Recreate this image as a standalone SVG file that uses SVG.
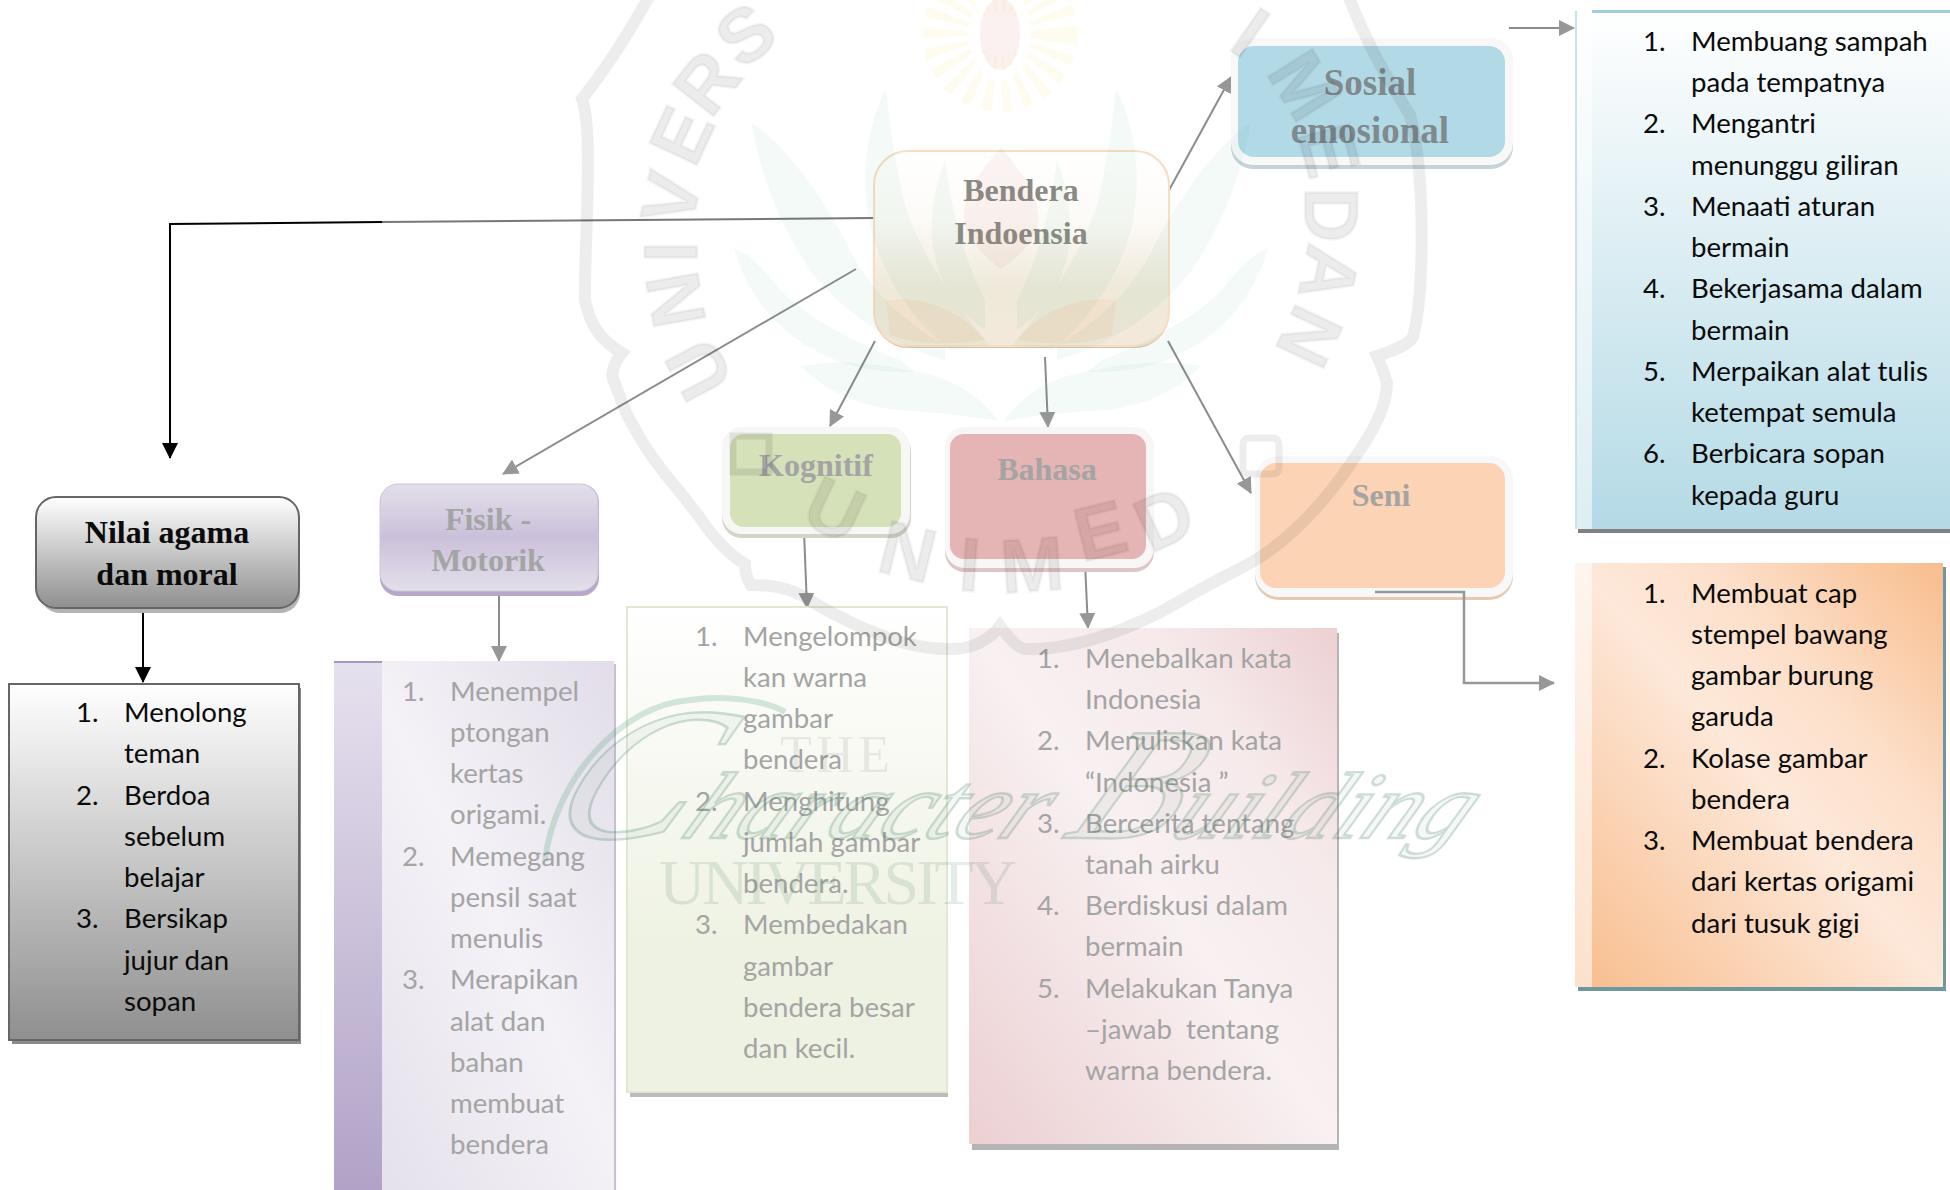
<svg xmlns="http://www.w3.org/2000/svg" xmlns:xlink="http://www.w3.org/1999/xlink" width="1950" height="1190" viewBox="0 0 1950 1190">
<style>
.t{font-family:"Liberation Serif","Times New Roman",serif;font-weight:bold;font-size:32px;text-anchor:middle}
.l{font-family:Lato,"Open Sans",sans-serif;font-size:27.6px;white-space:pre;transform:translate(-2px,0)}
.g{fill:#a4a4a4}.k{fill:#0b0b0b}
.c{fill:none;stroke:#8c8c8c;stroke-width:2}
.w{font-family:"Liberation Sans",Arial,sans-serif;font-weight:bold;font-size:76px;text-anchor:middle;fill:#000;fill-opacity:.075;stroke:#000;stroke-opacity:.04;stroke-width:3}
</style>
<defs>
<marker id="ag" markerUnits="userSpaceOnUse" markerWidth="16" markerHeight="16" refX="15" refY="8" orient="auto"><path d="M0 0L16 8L0 16Z" fill="#979797"/></marker>
<marker id="ab" markerUnits="userSpaceOnUse" markerWidth="16" markerHeight="16" refX="15" refY="8" orient="auto"><path d="M0 0L16 8L0 16Z" fill="#000"/></marker>
<linearGradient id="gn" x1="0" y1="0" x2="0" y2="1"><stop offset="0" stop-color="#fff"/><stop offset="1" stop-color="#8f8f8f"/></linearGradient>
<linearGradient id="gf" x1="0" y1="0" x2="0" y2="1"><stop offset="0" stop-color="#e3dfea"/><stop offset=".5" stop-color="#cbc0da"/><stop offset="1" stop-color="#e3dfea"/></linearGradient>
<linearGradient id="gb" x1="0" y1="0" x2="0" y2="1"><stop offset="0" stop-color="#fff"/><stop offset=".35" stop-color="#fdfbf8"/><stop offset=".7" stop-color="#efe9da"/><stop offset="1" stop-color="#f3e9da"/></linearGradient>
<linearGradient id="gs" x1="0" y1="0" x2="0" y2="1"><stop offset="0" stop-color="#fff"/><stop offset="1" stop-color="#b4dae6"/></linearGradient>
<linearGradient id="gg" x1="0" y1="0" x2="0" y2="1"><stop offset="0" stop-color="#fff"/><stop offset=".7" stop-color="#eef2e2"/><stop offset="1" stop-color="#eef2e2"/></linearGradient>
<linearGradient id="gp" x1="0" y1="1" x2="1" y2="0"><stop offset="0" stop-color="#ecd0d2"/><stop offset=".5" stop-color="#f8f0f1"/><stop offset=".75" stop-color="#f6eaeb"/><stop offset="1" stop-color="#edd0d2"/></linearGradient>
<linearGradient id="gv" x1="0" y1="1" x2="1" y2="0"><stop offset="0" stop-color="#e2dde9"/><stop offset=".55" stop-color="#f4f2f7"/><stop offset="1" stop-color="#e2dde9"/></linearGradient>
<linearGradient id="gv2" x1="0" y1="0" x2="0" y2="1"><stop offset="0" stop-color="#e6e1ee"/><stop offset="1" stop-color="#b0a1c6"/></linearGradient>
<linearGradient id="go" x1="0" y1="1" x2="1" y2="0"><stop offset="0" stop-color="#f8bd8d"/><stop offset=".5" stop-color="#fde8d9"/><stop offset=".68" stop-color="#fde0cb"/><stop offset="1" stop-color="#f8bd8d"/></linearGradient>
<g id="leaves">
<path d="M990 345C950 300 920 250 905 205C895 165 890 125 886 88C870 120 860 165 868 215C875 260 905 315 950 350Z"/>
<path d="M945 345C900 320 865 285 845 240C820 195 790 150 751 122C762 180 780 225 810 270C840 310 890 345 945 360Z"/>
<path d="M900 360C860 345 810 320 780 290C765 270 750 255 734 248C745 290 775 330 815 350C850 370 880 372 915 372Z"/>
<path d="M998 421C980 395 950 375 905 370C870 362 835 360 801 366C830 395 860 405 895 410C930 412 965 415 998 421Z"/>
<path d="M985 300C960 250 950 200 945 160C930 200 925 245 945 285C955 305 970 320 985 330Z"/>
</g>
</defs>

<g id="connectors">
<path class="c" style="stroke:#777" d="M874 218L382 222"/>
<path d="M382 222L170 224V458" fill="none" stroke="#000" stroke-width="2" marker-end="url(#ab)"/>
<path d="M143 608V682" fill="none" stroke="#000" stroke-width="2" marker-end="url(#ab)"/>
<path class="c" d="M499 595V661" marker-end="url(#ag)"/>
<path class="c" d="M856 269L503 474" marker-end="url(#ag)"/>
<path class="c" d="M875 341L830 426" marker-end="url(#ag)"/>
<path class="c" d="M1045 357L1048 427" marker-end="url(#ag)"/>
<path class="c" d="M1168 192L1231 77" marker-end="url(#ag)"/>
<path class="c" d="M1168 341L1251 493" marker-end="url(#ag)"/>
<path class="c" d="M804 531L807 608" marker-end="url(#ag)"/>
<path class="c" d="M1085 563L1088 628" marker-end="url(#ag)"/>
<path class="c" d="M1509 28H1574" marker-end="url(#ag)"/>
</g>

<g id="nilai-agama">
<rect x="40" y="502" width="260" height="111" rx="20" fill="#b4b4b4"/>
<rect x="36" y="497" width="263" height="111" rx="20" fill="url(#gn)" stroke="#666" stroke-width="2"/>
<text class="t k" x="167" y="543">Nilai agama</text><text class="t k" x="167" y="585">dan moral</text>
</g>
<g id="nilai-list">
<rect x="12" y="688" width="289" height="356" fill="#8a8a8a"/>
<rect x="9" y="684" width="290" height="356" fill="url(#gn)" stroke="#666" stroke-width="2"/>
<text class="l k"><tspan x="78" y="722">1.</tspan><tspan x="126" y="722">Menolong</tspan><tspan x="126" y="763">teman</tspan><tspan x="78" y="805">2.</tspan><tspan x="126" y="805">Berdoa</tspan><tspan x="126" y="846">sebelum</tspan><tspan x="126" y="887">belajar</tspan><tspan x="78" y="928">3.</tspan><tspan x="126" y="928">Bersikap</tspan><tspan x="126" y="970">jujur dan</tspan><tspan x="126" y="1011">sopan</tspan></text>
</g>

<g id="fisik-motorik">
<rect x="380" y="484" width="219" height="112" rx="18" fill="#b5a8c9"/>
<rect x="380" y="484" width="218" height="107" rx="18" fill="url(#gf)" stroke="#cfc6dd"/>
<text class="t g" x="488" y="530">Fisik -</text><text class="t g" x="488" y="571">Motorik</text>
</g>
<g id="fisik-list">
<rect x="337" y="664" width="279" height="540" fill="#c6c0d0"/>
<rect x="334" y="661" width="280" height="540" fill="url(#gv)"/>
<rect x="334" y="661" width="48" height="540" fill="url(#gv2)"/>
<rect x="334" y="661" width="48" height="2" fill="#a898c0"/>
<text class="l g"><tspan x="404" y="701">1.</tspan><tspan x="452" y="701">Menempel</tspan><tspan x="452" y="742">ptongan</tspan><tspan x="452" y="783">kertas</tspan><tspan x="452" y="824">origami.</tspan><tspan x="404" y="866">2.</tspan><tspan x="452" y="866">Memegang</tspan><tspan x="452" y="907">pensil saat</tspan><tspan x="452" y="948">menulis</tspan><tspan x="404" y="989">3.</tspan><tspan x="452" y="989">Merapikan</tspan><tspan x="452" y="1031">alat dan</tspan><tspan x="452" y="1072">bahan</tspan><tspan x="452" y="1113">membuat</tspan><tspan x="452" y="1154">bendera</tspan></text>
</g>

<g id="kognitif">
<rect x="722" y="431" width="189" height="107" rx="20" fill="#d4d4c8"/>
<rect x="722" y="427" width="188" height="107" rx="20" fill="#f7f7f6"/>
<rect x="730" y="434" width="171" height="93" rx="14" fill="#d5e1b9"/>
<text class="t g" x="816" y="476">Kognitif</text>
</g>
<g id="kognitif-list">
<rect x="630" y="611" width="318" height="486" fill="#bbb"/>
<rect x="627" y="607" width="320" height="485" fill="url(#gg)" stroke="#e1e8d2" stroke-width="2"/>
<text class="l g"><tspan x="697" y="646">1.</tspan><tspan x="745" y="646">Mengelompok</tspan><tspan x="745" y="687">kan warna</tspan><tspan x="745" y="728">gambar</tspan><tspan x="745" y="769">bendera</tspan><tspan x="697" y="811">2.</tspan><tspan x="745" y="811">Menghitung</tspan><tspan x="745" y="852">jumlah gambar</tspan><tspan x="745" y="893">bendera.</tspan><tspan x="697" y="934">3.</tspan><tspan x="745" y="934">Membedakan</tspan><tspan x="745" y="976">gambar</tspan><tspan x="745" y="1017">bendera besar</tspan><tspan x="745" y="1058">dan kecil.</tspan></text>
</g>

<g id="bahasa">
<rect x="945" y="431" width="209" height="141" rx="20" fill="#dcc6c6"/>
<rect x="945" y="427" width="209" height="141" rx="20" fill="#f8f6f6"/>
<rect x="950" y="434" width="196" height="125" rx="14" fill="#e5b4b4"/>
<text class="t g" x="1047" y="480">Bahasa</text>
</g>
<g id="bahasa-list">
<rect x="972" y="633" width="367" height="517" fill="#b4b4b4"/>
<rect x="969" y="628" width="368" height="516" fill="url(#gp)"/>
<text class="l g"><tspan x="1039" y="668">1.</tspan><tspan x="1087" y="668">Menebalkan kata</tspan><tspan x="1087" y="709">Indonesia</tspan><tspan x="1039" y="750">2.</tspan><tspan x="1087" y="750">Menuliskan kata</tspan><tspan x="1087" y="792">“Indonesia ”</tspan><tspan x="1039" y="833">3.</tspan><tspan x="1087" y="833">Bercerita tentang</tspan><tspan x="1087" y="874">tanah airku</tspan><tspan x="1039" y="915">4.</tspan><tspan x="1087" y="915">Berdiskusi dalam</tspan><tspan x="1087" y="956">bermain</tspan><tspan x="1039" y="998">5.</tspan><tspan x="1087" y="998">Melakukan Tanya</tspan><tspan x="1087" y="1039">–jawab  tentang</tspan><tspan x="1087" y="1080">warna bendera.</tspan></text>
</g>

<g id="bendera-indonesia">
<rect x="874" y="151" width="295" height="195" rx="34" fill="#cfc7b5" transform="translate(0 2)"/>
<rect x="874" y="151" width="295" height="195" rx="34" fill="url(#gb)" stroke="#fbdcc0" stroke-width="2"/>
<text class="t" x="1021" y="201" fill="#8a8c84">Bendera</text><text class="t" x="1021" y="244" fill="#8a8c84">Indoensia</text>
</g>

<g id="sosial">
<rect x="1231" y="42" width="282" height="127" rx="22" fill="#c4d3d8"/>
<rect x="1231" y="38" width="282" height="127" rx="22" fill="#f8f8f8"/>
<rect x="1238" y="46" width="267" height="111" rx="16" fill="#b2dae6"/>
<text class="t" x="1370" y="95" fill="#808a8e" style="font-size:37px">Sosial</text><text class="t" x="1370" y="143" fill="#808a8e" style="font-size:37px">emosional</text>
</g>
<g id="sosial-list">
<rect x="1578" y="16" width="372" height="517" fill="#808080"/>
<rect x="1575" y="11" width="375" height="518" fill="url(#gs)"/>
<rect x="1575" y="11" width="17" height="518" fill="#fff" fill-opacity=".55"/>
<rect x="1592" y="10" width="358" height="3" fill="#9fd0e0"/>
<rect x="1575" y="11" width="2" height="518" fill="#c6e3ec"/>
<text class="l k"><tspan x="1645" y="51">1.</tspan><tspan x="1693" y="51">Membuang sampah</tspan><tspan x="1693" y="92">pada tempatnya</tspan><tspan x="1645" y="133">2.</tspan><tspan x="1693" y="133">Mengantri</tspan><tspan x="1693" y="175">menunggu giliran</tspan><tspan x="1645" y="216">3.</tspan><tspan x="1693" y="216">Menaati aturan</tspan><tspan x="1693" y="257">bermain</tspan><tspan x="1645" y="298">4.</tspan><tspan x="1693" y="298">Bekerjasama dalam</tspan><tspan x="1693" y="340">bermain</tspan><tspan x="1645" y="381">5.</tspan><tspan x="1693" y="381">Merpaikan alat tulis</tspan><tspan x="1693" y="422">ketempat semula</tspan><tspan x="1645" y="463">6.</tspan><tspan x="1693" y="463">Berbicara sopan</tspan><tspan x="1693" y="505">kepada guru</tspan></text>
</g>

<g id="seni">
<rect x="1255" y="461" width="258" height="139" rx="24" fill="#e5c9b4"/>
<rect x="1255" y="456" width="258" height="141" rx="24" fill="#f8f8f8"/>
<rect x="1260" y="463" width="245" height="125" rx="16" fill="#fcd3b4"/>
<text class="t g" x="1381" y="506">Seni</text>
</g>
<g id="seni-list">
<rect x="1578" y="567" width="368" height="424" fill="#6f97a0"/>
<rect x="1575" y="563" width="368" height="424" fill="url(#go)"/>
<rect x="1575" y="563" width="17" height="424" fill="#fff" fill-opacity=".55"/>
<text class="l k"><tspan x="1645" y="603">1.</tspan><tspan x="1693" y="603">Membuat cap</tspan><tspan x="1693" y="644">stempel bawang</tspan><tspan x="1693" y="685">gambar burung</tspan><tspan x="1693" y="726">garuda</tspan><tspan x="1645" y="768">2.</tspan><tspan x="1693" y="768">Kolase gambar</tspan><tspan x="1693" y="809">bendera</tspan><tspan x="1645" y="850">3.</tspan><tspan x="1693" y="850">Membuat bendera</tspan><tspan x="1693" y="891">dari kertas origami</tspan><tspan x="1693" y="933">dari tusuk gigi</tspan></text>
</g>
<path class="c" d="M1375 592H1464V683H1554" style="stroke:#979797;stroke-width:2.5" marker-end="url(#ag)"/>

<g id="watermark">
<g id="seal-flower">
<g fill="#1f9d60" fill-opacity=".05">
<use href="#leaves" xlink:href="#leaves"/>
<use href="#leaves" xlink:href="#leaves" transform="matrix(-1 0 0 1 2002 0)"/>
</g>
<path d="M1001 147C1035 190 1065 225 1001 269C940 225 965 190 1001 147Z" fill="#c04a4a" fill-opacity=".06"/>
<path d="M886 300C930 295 965 315 985 340C950 345 915 345 890 335ZM1116 300C1072 295 1037 315 1017 340C1052 345 1087 345 1112 335Z" fill="#f59a5a" fill-opacity=".11"/>
<circle cx="1000" cy="34" r="50" fill="none" stroke="#f6d020" stroke-opacity=".07" stroke-width="55" stroke-dasharray="7 7"/>
<ellipse cx="1000" cy="34" rx="20" ry="36" fill="#d94a4a" fill-opacity=".08"/>
<ellipse cx="1000" cy="34" rx="26" ry="42" fill="none" stroke="#fff" stroke-width="10"/>
</g>
<path id="seal-outline" fill="none" stroke="#000" stroke-opacity=".07" stroke-width="12" d="M650 -5C625 40 605 70 582 99C594 130 584 250 585 300C590 325 600 340 622 353C612 365 612 375 613 379C620 395 625 415 633 425C650 460 680 490 700 518C715 540 730 555 745 564C745 575 748 580 751 585C775 585 795 590 809 600C860 630 910 650 950 649C970 650 990 640 1000 626C1010 640 1020 650 1027 649C1080 650 1140 625 1182 600C1215 580 1240 570 1262 556C1300 530 1330 495 1353 460C1375 430 1387 405 1387 383C1383 370 1380 362 1377 356C1395 350 1408 345 1413 337C1425 290 1425 170 1410 115C1385 75 1365 40 1348 -5"/>
<rect x="1243" y="438" width="36" height="36" fill="none" stroke="#000" stroke-opacity=".07" stroke-width="7" rx="6"/>
<rect x="733" y="436" width="36" height="36" fill="none" stroke="#000" stroke-opacity=".09" stroke-width="7"/>
<g id="seal-letters">
<text class="w" transform="translate(698 370) rotate(-118)" y="27">U</text>
<text class="w" transform="translate(675 300) rotate(-100)" y="27">N</text>
<text class="w" transform="translate(670 252) rotate(-90)" y="27">I</text>
<text class="w" transform="translate(670 198) rotate(-78)" y="27">V</text>
<text class="w" transform="translate(681 135) rotate(-65)" y="27">E</text>
<text class="w" transform="translate(706 82) rotate(-52)" y="27">R</text>
<text class="w" transform="translate(745 34) rotate(-38)" y="27">S</text>
<text class="w" transform="translate(1251 32) rotate(35)" y="27">I</text>
<text class="w" transform="translate(1305 85) rotate(58)" y="27">M</text>
<text class="w" transform="translate(1330 150) rotate(75)" y="27">E</text>
<text class="w" transform="translate(1332 215) rotate(90)" y="27">D</text>
<text class="w" transform="translate(1330 274) rotate(102)" y="27">A</text>
<text class="w" transform="translate(1310 337) rotate(115)" y="27">N</text>
<text class="w" transform="translate(835 509) rotate(25)" y="27">U</text>
<text class="w" transform="translate(908 551) rotate(14)" y="27">N</text>
<text class="w" transform="translate(970 564) rotate(4)" y="27">I</text>
<text class="w" transform="translate(1032 564) rotate(-4)" y="27">M</text>
<text class="w" transform="translate(1100 530) rotate(-14)" y="27">E</text>
<text class="w" transform="translate(1164 518) rotate(-25)" y="27">D</text>
</g>
<text x="780" y="772" font-family="Liberation Serif,serif" font-size="52" fill="#000" fill-opacity=".07" textLength="110">THE</text>
<text x="659" y="904" font-family="Liberation Serif,serif" font-size="64" fill="#2c6a4a" fill-opacity=".13" textLength="358">UNIVERSITY</text>
<path d="M545 860C555 780 620 705 690 700C725 695 765 700 785 712" fill="none" stroke="#2f8f60" stroke-opacity=".2" stroke-width="6"/>
<text transform="translate(540 838) skewX(-28)" font-family="Liberation Serif,serif" font-style="italic" fill="#3a7f5c" fill-opacity=".05" stroke="#3a7f5c" stroke-opacity=".24" stroke-width="2.4" textLength="920" lengthAdjust="spacingAndGlyphs" font-size="95"><tspan font-size="190">C</tspan>haracter <tspan font-size="160">B</tspan>uilding</text>
</g>
</svg>
